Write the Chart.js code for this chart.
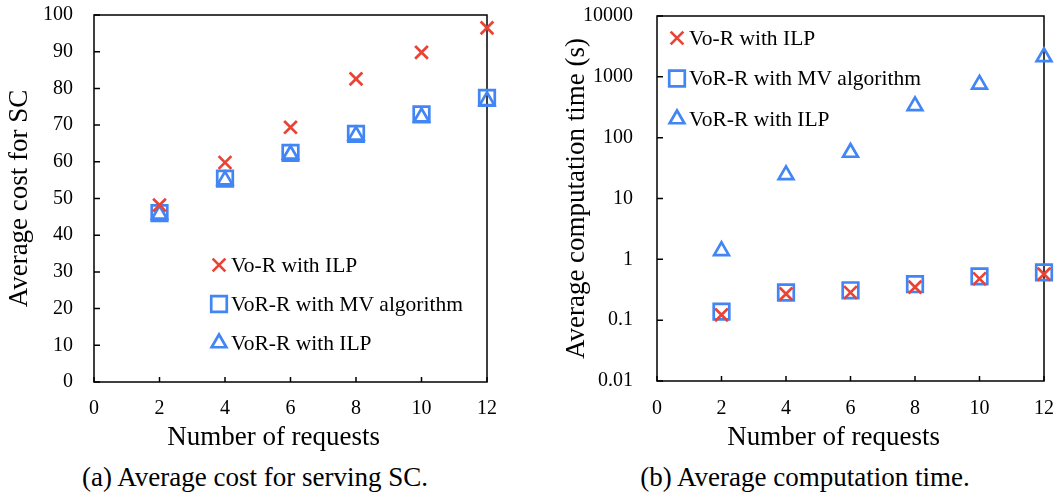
<!DOCTYPE html>
<html>
<head>
<meta charset="utf-8">
<script src="https://cdn.jsdelivr.net/npm/chart.js@4.4.1/dist/chart.umd.min.js"></script>
<style>
  body { margin: 0; background: #fff; }
  #wrap { position: relative; width: 1058px; height: 497px; }
  .pane { position: absolute; top: 0; }
  .cap { position: absolute; top: 461px; font: 27px 'Liberation Serif', serif; line-height: 32px;
         color: #000; white-space: nowrap; transform: translateX(-50%); }
</style>
</head>
<body>
<div id="wrap">
  <canvas id="costChart" class="pane" style="left:0" width="529" height="460"></canvas>
  <canvas id="timeChart" class="pane" style="left:529px" width="529" height="460"></canvas>
  <div class="cap" style="left:255px">(a) Average cost for serving SC.</div>
  <div class="cap" style="left:805px">(b) Average computation time.</div>
</div>
<script>
"use strict";

// data
var requests = [2, 4, 6, 8, 10, 12];
var xTicks = [0, 2, 4, 6, 8, 10, 12];

var costVoIlp = [48.2, 59.8, 69.4, 82.6, 89.8, 96.5];
var costVorMv = [46, 55.4, 62.4, 67.6, 72.9, 77.4];
var costVorIlp = [45.7, 55, 62, 67.2, 72.2, 76.6];
var costTicks = [0, 10, 20, 30, 40, 50, 60, 70, 80, 90, 100];

var timeVoIlp = [0.122, 0.27, 0.285, 0.35, 0.48, 0.57];
var timeVorMv = [0.138, 0.285, 0.31, 0.39, 0.525, 0.61];
var timeVorIlp = [1.38, 24.5, 57, 333, 751, 2130];
var timeTicks = [0.01, 0.1, 1, 10, 100, 1000, 10000];

var seriesNames = ['Vo-R with ILP', 'VoR-R with MV algorithm', 'VoR-R with ILP'];

var RED = '#ea4335';
var BLUE = '#4285f4';
var FONT = "'Liberation Serif', serif";

function pts(ys) {
    return requests.map(function (x, i) { return { x: x, y: ys[i] }; });
}

// frame, inward ticks and in-plot legend
var framePlugin = {
    id: 'frame',
    beforeDatasetsDraw: function (chart) {
        var ctx = chart.ctx, a = chart.chartArea;
        var xs = chart.scales.x, ys = chart.scales.y;
        ctx.save();
        ctx.strokeStyle = '#000';
        ctx.lineWidth = 1.5;
        ctx.strokeRect(a.left, a.top, a.right - a.left, a.bottom - a.top);
        ctx.beginPath();
        xs.ticks.forEach(function (t) {
            var px = xs.getPixelForValue(t.value);
            ctx.moveTo(px, a.bottom);
            ctx.lineTo(px, a.bottom - 5);
        });
        ys.ticks.forEach(function (t) {
            var py = ys.getPixelForValue(t.value);
            ctx.moveTo(a.left, py);
            ctx.lineTo(a.left + 6, py);
        });
        ctx.stroke();
        ctx.restore();
    },
    afterDatasetsDraw: function (chart, args, opts) {
        var ctx = chart.ctx;
        ctx.save();
        ctx.font = '21.5px ' + FONT;
        ctx.textBaseline = 'middle';
        chart.data.datasets.forEach(function (ds, i) {
            var y = opts.y + i * opts.gap;
            ctx.fillStyle = 'rgba(0,0,0,0)';
            ctx.strokeStyle = ds.borderColor;
            ctx.lineWidth = ds.borderWidth;
            Chart.helpers.drawPoint(ctx, {
                pointStyle: ds.pointStyle, radius: ds.pointRadius,
                rotation: 0, borderWidth: ds.borderWidth
            }, opts.x, y);
            ctx.fillStyle = '#000';
            ctx.fillText(ds.label, opts.x + 12, y + 1);
        });
        ctx.restore();
    }
};

function datasets(a, b, c) {
    return [{
        label: seriesNames[0], data: pts(a), pointStyle: 'crossRot', pointRadius: 9,
        borderColor: RED, backgroundColor: 'rgba(0,0,0,0)', borderWidth: 2.7, clip: false
    }, {
        label: seriesNames[1], data: pts(b), pointStyle: 'rect', pointRadius: 11,
        borderColor: BLUE, backgroundColor: 'rgba(0,0,0,0)', borderWidth: 2.7, clip: false
    }, {
        label: seriesNames[2], data: pts(c), pointStyle: 'triangle', pointRadius: 8.5,
        borderColor: BLUE, backgroundColor: 'rgba(0,0,0,0)', borderWidth: 2.7, clip: false
    }];
}

function makeChart(id, sets, cfg) {
    var ctx = document.getElementById(id).getContext('2d');
    return new Chart(ctx, {
        type: 'scatter',
        data: { datasets: sets },
        plugins: [framePlugin],
        options: {
            responsive: false,
            animation: false,
            devicePixelRatio: 1,
            layout: { padding: { top: cfg.padTop, right: cfg.padRight, left: 0, bottom: 0 } },
            plugins: {
                legend: { display: false },
                tooltip: { enabled: false },
                frame: cfg.legend
            },
            scales: {
                x: {
                    type: 'linear', min: 0, max: 12,
                    afterBuildTicks: function (s) { s.ticks = xTicks.map(function (v) { return { value: v }; }); },
                    afterFit: function (s) {
                        s.height = cfg.xHeight;
                        s.paddingLeft = 0;
                        s.paddingRight = 0;
                    },
                    grid: { display: false, drawTicks: false },
                    border: { display: false },
                    ticks: { color: '#000', padding: cfg.xPad, font: { family: FONT, size: 20 }, maxRotation: 0 },
                    // trailing spaces nudge the centred title left, as in the figure
                    title: { display: true, text: 'Number of requests     ', color: '#000',
                             font: { family: FONT, size: 27 }, padding: { top: 0, bottom: 6 } }
                },
                y: {
                    type: cfg.yType, min: cfg.yMin, max: cfg.yMax,
                    afterBuildTicks: function (s) { s.ticks = cfg.yTicks.map(function (v) { return { value: v }; }); },
                    afterFit: function (s) {
                        s.width = cfg.yWidth;
                        s.paddingTop = 0;
                        s.paddingBottom = 0;
                    },
                    grid: { display: false, drawTicks: false },
                    border: { display: false },
                    ticks: { color: '#000', padding: cfg.yPad, font: { family: FONT, size: 20 },
                             callback: function (v) { return String(v); } },
                    title: { display: true, text: cfg.yTitle, color: '#000',
                             font: { family: FONT, size: 27 }, padding: { top: cfg.yTitlePad, bottom: 0 } }
                }
            }
        }
    });
}

makeChart('costChart', datasets(costVoIlp, costVorMv, costVorIlp), {
    padTop: 15, padRight: 42, xHeight: 78, yWidth: 94, xPad: 15, yPad: 21,
    yType: 'linear', yMin: 0, yMax: 100, yTicks: costTicks,
    yTitle: 'Average cost for SC', yTitlePad: 4,
    legend: { x: 219, y: 265, gap: 39 }
});

makeChart('timeChart', datasets(timeVoIlp, timeVorMv, timeVorIlp), {
    padTop: 16, padRight: 14, xHeight: 79, yWidth: 128, xPad: 16, yPad: 24,
    yType: 'logarithmic', yMin: 0.01, yMax: 10000, yTicks: timeTicks,
    yTitle: 'Average computation time (s)', yTitlePad: 32,
    legend: { x: 148, y: 38, gap: 40.5 }
});
</script>
</body>
</html>
